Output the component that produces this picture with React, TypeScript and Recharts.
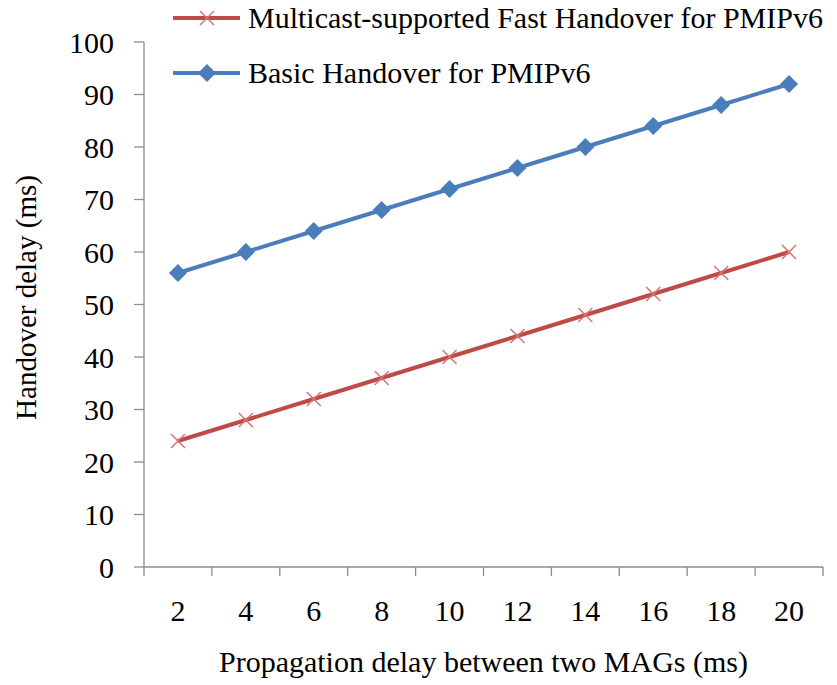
import React from 'react';
import { LineChart, Line, XAxis, YAxis } from 'recharts';

// propagation delay between two MAGs (ms)
const delays = [2, 4, 6, 8, 10, 12, 14, 16, 18, 20];
// handover delay (ms)
const fastHandover = [24, 28, 32, 36, 40, 44, 48, 52, 56, 60];
const basicHandover = [56, 60, 64, 68, 72, 76, 80, 84, 88, 92];

const xTicks = [1, 2, 3, 4, 5, 6, 7, 8, 9, 10, 11, 12, 13, 14, 15, 16, 17, 18, 19, 20, 21];
const yTicks = [0, 10, 20, 30, 40, 50, 60, 70, 80, 90, 100];

const series = [
  { key: 'fast', name: 'Multicast-supported Fast Handover for PMIPv6', color: '#BE4B48', marker: 'cross' },
  { key: 'basic', name: 'Basic Handover for PMIPv6', color: '#4A7EBB', marker: 'diamond' },
];

const data = delays.map((d, i) => ({ delay: d, fast: fastHandover[i], basic: basicHandover[i] }));

const FONT = '"Liberation Serif", "Times New Roman", serif';
const AXIS = '#8C8C8C';

function Marker({ type, cx, cy }: { type: string; cx: number; cy: number }) {
  if (type === 'diamond') {
    return (
      <path
        d={`M${cx},${cy - 9} L${cx + 9},${cy} L${cx},${cy + 9} L${cx - 9},${cy} Z`}
        fill="#4A7EBB"
      />
    );
  }
  return (
    <g stroke="#D77472" strokeWidth={1.5}>
      <line x1={cx - 7} y1={cy - 7} x2={cx + 7} y2={cy + 7} />
      <line x1={cx - 7} y1={cy + 7} x2={cx + 7} y2={cy - 7} />
    </g>
  );
}

// odd values only carry the tick marks between categories, even ones carry the labels
const XTick = (props: any) => {
  const { x, y, payload } = props;
  if (payload.value % 2 === 1) {
    return <line x1={x} y1={y} x2={x} y2={y + 9} stroke={AXIS} strokeWidth={1.3} />;
  }
  return (
    <text x={x} y={y + 54} textAnchor="middle" fontFamily={FONT} fontSize={30} fill="#000">
      {payload.value}
    </text>
  );
};

function Legend() {
  return (
    <div style={{ position: 'absolute', left: 172, top: 0, fontFamily: FONT, fontSize: 30 }}>
      {series.map((s, i) => (
        <div
          key={s.key}
          style={{
            position: 'absolute',
            top: i * 55,
            left: 0,
            height: 36,
            lineHeight: '36px',
            whiteSpace: 'nowrap',
            display: 'flex',
          }}
        >
          <svg width={76} height={36}>
            <line x1={1} y1={18} x2={68} y2={18} stroke={s.color} strokeWidth={4} />
            <Marker type={s.marker} cx={35} cy={18} />
          </svg>
          <span>{s.name}</span>
        </div>
      ))}
    </div>
  );
}

export default function App() {
  return (
    <div style={{ position: 'absolute', left: 0, top: 0, width: 837, height: 685, background: '#fff' }}>
      <LineChart width={837} height={685} data={data} margin={{ top: 42, right: 14, bottom: 0, left: 0 }}>
        <XAxis
          dataKey="delay"
          type="number"
          domain={[1, 21]}
          ticks={xTicks}
          interval={0}
          height={118}
          tickSize={0}
          tickMargin={0}
          tickLine={false}
          tick={<XTick />}
          axisLine={{ stroke: AXIS, strokeWidth: 1.3 }}
          label={{
            content: (p: any) => {
              const vb = p.viewBox;
              return (
                <text x={vb.x + vb.width / 2} y={672} textAnchor="middle" fontFamily={FONT} fontSize={30} fill="#000">
                  Propagation delay between two MAGs (ms)
                </text>
              );
            },
          }}
        />
        <YAxis
          type="number"
          domain={[0, 100]}
          ticks={yTicks}
          interval={0}
          width={144}
          tickSize={10}
          tickMargin={20}
          tickLine={{ stroke: AXIS, strokeWidth: 1.3 }}
          axisLine={{ stroke: AXIS, strokeWidth: 1.3 }}
          tick={{ fontFamily: FONT, fontSize: 30, fill: '#000' }}
          label={{
            content: (p: any) => {
              const vb = p.viewBox;
              const cy = vb.y + vb.height / 2 - 7;
              return (
                <text
                  x={26}
                  y={cy}
                  transform={`rotate(-90, 26, ${cy})`}
                  textAnchor="middle"
                  dominantBaseline="central"
                  fontFamily={FONT}
                  fontSize={29}
                  fill="#000"
                >
                  Handover delay (ms)
                </text>
              );
            },
          }}
        />
        {series.map(s => (
          <Line
            key={s.key}
            dataKey={s.key}
            name={s.name}
            stroke={s.color}
            strokeWidth={4}
            isAnimationActive={false}
            dot={(p: any) => <Marker key={`${s.key}-${p.index}`} type={s.marker} cx={p.cx} cy={p.cy} />}
            activeDot={false}
          />
        ))}
      </LineChart>
      <Legend />
    </div>
  );
}
